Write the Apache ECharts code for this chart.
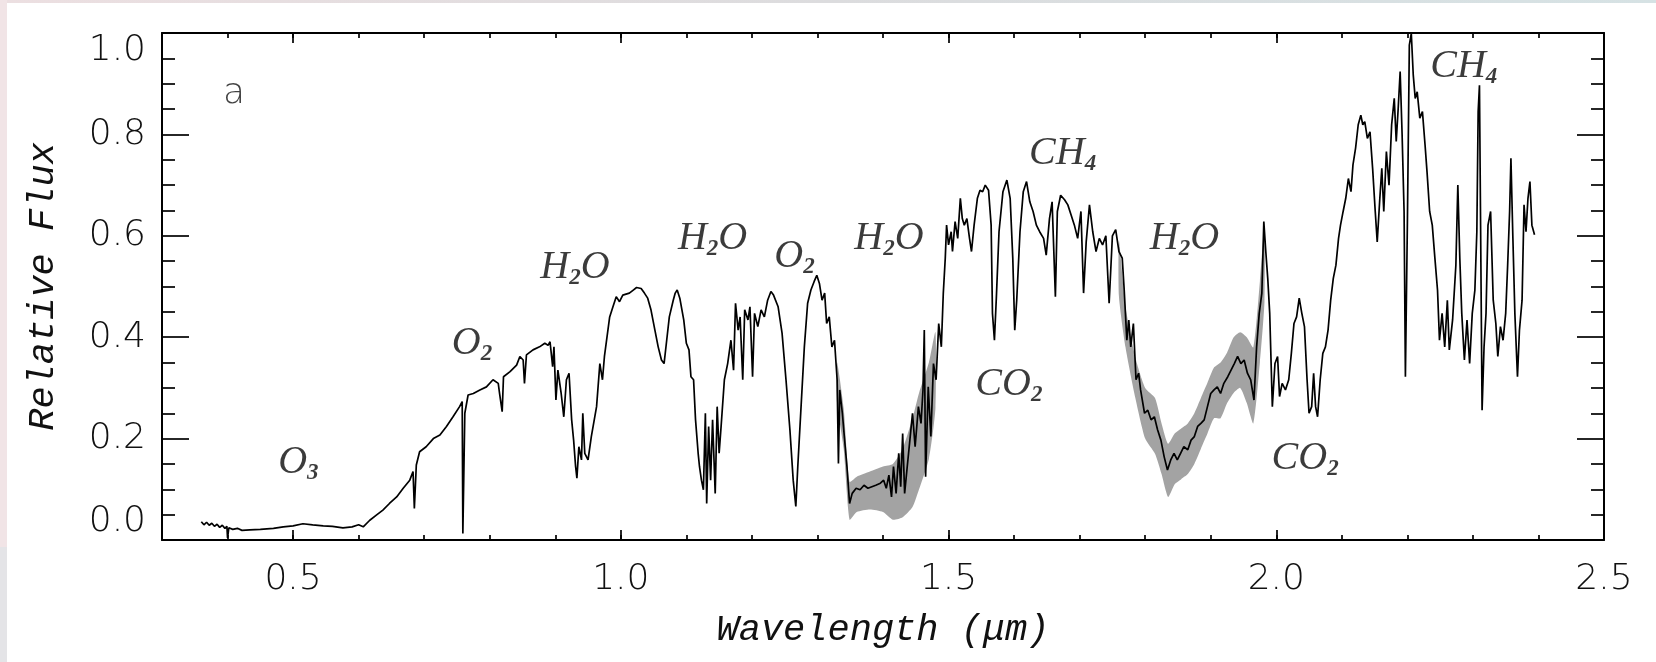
<!DOCTYPE html>
<html>
<head>
<meta charset="utf-8">
<script src="https://cdn.jsdelivr.net/npm/echarts@6/dist/echarts.min.js"></script>
<style>
  html, body { margin: 0; padding: 0; background: #fff; }
  #main { width: 1656px; height: 662px; }
</style>
</head>
<body>
<div id="main"></div>
<script>
// spectrum, [wavelength (um), relative flux]
var specVis = [[0.360,0.036],[0.364,0.030],[0.368,0.035],[0.372,0.029],[0.376,0.033],[0.380,0.027],[0.384,0.031],[0.388,0.025],[0.392,0.029],[0.396,0.023],[0.399,0.027],[0.400,0.004],[0.402,0.024],[0.408,0.021],[0.415,0.023],[0.422,0.019],[0.434,0.020],[0.450,0.021],[0.470,0.023],[0.485,0.026],[0.500,0.028],[0.515,0.032],[0.530,0.030],[0.546,0.028],[0.560,0.027],[0.576,0.024],[0.590,0.026],[0.600,0.030],[0.607,0.026],[0.617,0.039],[0.627,0.049],[0.637,0.059],[0.647,0.072],[0.658,0.085],[0.668,0.102],[0.678,0.118],[0.683,0.135],[0.685,0.062],[0.688,0.148],[0.693,0.174],[0.703,0.184],[0.714,0.200],[0.724,0.207],[0.734,0.224],[0.744,0.243],[0.754,0.263],[0.758,0.273],[0.759,0.013],[0.762,0.250],[0.767,0.286],[0.775,0.289],[0.785,0.296],[0.795,0.302],[0.805,0.316],[0.813,0.309],[0.815,0.289],[0.819,0.253],[0.821,0.322],[0.831,0.332],[0.841,0.345],[0.846,0.362],[0.851,0.355],[0.853,0.309],[0.856,0.365],[0.866,0.375],[0.876,0.381],[0.884,0.388],[0.889,0.384],[0.892,0.391],[0.896,0.342],[0.898,0.381],[0.901,0.276],[0.904,0.335],[0.909,0.289],[0.913,0.243],[0.917,0.316],[0.921,0.329],[0.925,0.237],[0.928,0.197],[0.931,0.145],[0.933,0.122],[0.936,0.184],[0.940,0.158],[0.942,0.250],[0.945,0.171],[0.950,0.158],[0.955,0.204],[0.963,0.263],[0.968,0.348],[0.972,0.316],[0.975,0.362],[0.983,0.440],[0.988,0.460],[0.993,0.480],[0.998,0.470],[1.003,0.483],[1.013,0.487],[1.019,0.493],[1.024,0.498],[1.031,0.496]];

var specJ = [[1.036,0.487],[1.041,0.477],[1.046,0.454],[1.052,0.414],[1.057,0.381],[1.062,0.355],[1.066,0.348],[1.070,0.394],[1.074,0.440],[1.080,0.473],[1.083,0.487],[1.086,0.493],[1.090,0.477],[1.092,0.480],[1.096,0.434],[1.100,0.388],[1.104,0.375],[1.107,0.322],[1.111,0.316],[1.114,0.237],[1.118,0.171],[1.120,0.145],[1.123,0.118],[1.126,0.099],[1.129,0.250],[1.131,0.072],[1.134,0.224],[1.137,0.118],[1.140,0.237],[1.144,0.092],[1.147,0.263],[1.150,0.171],[1.153,0.224],[1.158,0.316],[1.163,0.348],[1.168,0.394],[1.172,0.335],[1.175,0.467],[1.179,0.414],[1.182,0.440],[1.186,0.316],[1.189,0.454],[1.194,0.434],[1.197,0.460],[1.201,0.322],[1.204,0.447],[1.209,0.421],[1.214,0.454],[1.219,0.440],[1.224,0.473],[1.229,0.490],[1.233,0.483],[1.240,0.460],[1.246,0.408],[1.252,0.316],[1.258,0.217],[1.263,0.118],[1.267,0.066],[1.270,0.145],[1.275,0.263],[1.280,0.381],[1.285,0.467],[1.290,0.493],[1.295,0.510],[1.299,0.522],[1.303,0.506],[1.307,0.473],[1.311,0.487],[1.314,0.427],[1.318,0.440],[1.322,0.381],[1.326,0.394],[1.330,0.316],[1.332,0.151],[1.334,0.296],[1.338,0.250],[1.341,0.204],[1.345,0.145],[1.349,0.072],[1.353,0.092],[1.359,0.102],[1.365,0.099],[1.371,0.108],[1.377,0.102],[1.383,0.105],[1.389,0.108],[1.396,0.112],[1.401,0.118],[1.405,0.102],[1.409,0.128],[1.413,0.085],[1.416,0.145],[1.420,0.092],[1.424,0.171],[1.427,0.105],[1.430,0.210],[1.433,0.092],[1.437,0.145],[1.441,0.197],[1.445,0.250],[1.449,0.184],[1.454,0.263],[1.458,0.230],[1.461,0.296],[1.463,0.414],[1.465,0.125],[1.469,0.302],[1.473,0.204],[1.477,0.348],[1.481,0.316],[1.485,0.427],[1.489,0.381],[1.492,0.487]];

var specH = [[1.495,0.556],[1.497,0.621],[1.500,0.582],[1.504,0.608],[1.506,0.569],[1.510,0.628],[1.514,0.595],[1.518,0.674],[1.521,0.634],[1.524,0.621],[1.528,0.634],[1.532,0.595],[1.535,0.569],[1.539,0.621],[1.544,0.674],[1.548,0.690],[1.552,0.687],[1.556,0.700],[1.561,0.690],[1.565,0.621],[1.567,0.447],[1.570,0.394],[1.573,0.480],[1.577,0.608],[1.583,0.687],[1.589,0.710],[1.594,0.674],[1.598,0.556],[1.601,0.414],[1.604,0.473],[1.609,0.608],[1.614,0.687],[1.619,0.707],[1.624,0.667],[1.629,0.648],[1.634,0.621],[1.639,0.608],[1.645,0.595],[1.649,0.562],[1.654,0.634],[1.658,0.667],[1.663,0.480],[1.666,0.648],[1.671,0.680],[1.677,0.671],[1.682,0.661],[1.687,0.641],[1.692,0.621],[1.697,0.595],[1.702,0.648],[1.706,0.487],[1.710,0.588],[1.715,0.661],[1.720,0.608],[1.725,0.569],[1.730,0.595],[1.735,0.582],[1.740,0.600],[1.745,0.467],[1.750,0.600],[1.755,0.612],[1.760,0.569],[1.765,0.556]];

var specK = [[1.768,0.493],[1.772,0.394],[1.775,0.434],[1.778,0.381],[1.782,0.427],[1.786,0.316],[1.790,0.329],[1.793,0.296],[1.799,0.250],[1.804,0.256],[1.809,0.237],[1.814,0.243],[1.819,0.217],[1.824,0.197],[1.829,0.164],[1.834,0.138],[1.839,0.158],[1.844,0.171],[1.849,0.158],[1.854,0.171],[1.859,0.184],[1.865,0.178],[1.870,0.197],[1.875,0.204],[1.880,0.224],[1.885,0.230],[1.890,0.237],[1.895,0.263],[1.900,0.289],[1.905,0.296],[1.910,0.302],[1.915,0.289],[1.920,0.309],[1.926,0.322],[1.931,0.335],[1.936,0.348],[1.941,0.362],[1.946,0.348],[1.951,0.355],[1.956,0.329],[1.961,0.316],[1.966,0.276],[1.970,0.381],[1.974,0.447],[1.978,0.487],[1.981,0.628],[1.984,0.569],[1.987,0.516],[1.990,0.447],[1.994,0.263],[1.998,0.348],[2.002,0.362],[2.005,0.283],[2.009,0.309],[2.014,0.296],[2.019,0.316],[2.023,0.368],[2.027,0.427],[2.031,0.440],[2.035,0.477],[2.039,0.447],[2.043,0.421],[2.047,0.316],[2.050,0.250],[2.054,0.263],[2.057,0.329],[2.060,0.263],[2.063,0.243],[2.067,0.316],[2.071,0.368],[2.075,0.381],[2.079,0.414],[2.083,0.473],[2.087,0.516],[2.091,0.542],[2.095,0.595],[2.098,0.621],[2.102,0.648],[2.106,0.674],[2.110,0.713],[2.114,0.687],[2.117,0.740],[2.121,0.773],[2.125,0.819],[2.129,0.838],[2.132,0.819],[2.135,0.825],[2.139,0.792],[2.143,0.805],[2.147,0.733],[2.151,0.648],[2.154,0.588],[2.158,0.674],[2.161,0.733],[2.164,0.648],[2.168,0.766],[2.172,0.700],[2.176,0.819],[2.180,0.871],[2.183,0.786],[2.186,0.851],[2.189,0.924],[2.192,0.799],[2.195,0.648],[2.197,0.322],[2.200,0.621],[2.203,0.976],[2.206,0.999],[2.209,0.917],[2.212,0.871],[2.215,0.884],[2.219,0.832],[2.223,0.845],[2.227,0.779],[2.230,0.726],[2.234,0.648],[2.238,0.621],[2.242,0.556],[2.246,0.493],[2.249,0.394],[2.253,0.447],[2.257,0.381],[2.261,0.473],[2.264,0.375],[2.269,0.434],[2.274,0.542],[2.277,0.700],[2.280,0.556],[2.283,0.447],[2.287,0.355],[2.291,0.434],[2.295,0.348],[2.299,0.447],[2.303,0.493],[2.306,0.608],[2.308,0.845],[2.310,0.897],[2.314,0.256],[2.317,0.381],[2.320,0.447],[2.323,0.621],[2.327,0.648],[2.331,0.473],[2.335,0.427],[2.338,0.362],[2.342,0.421],[2.346,0.394],[2.350,0.447],[2.353,0.542],[2.356,0.648],[2.358,0.753],[2.361,0.595],[2.364,0.447],[2.368,0.322],[2.371,0.414],[2.375,0.473],[2.378,0.661],[2.381,0.608],[2.384,0.674],[2.387,0.707],[2.390,0.621],[2.394,0.602]];

// grey uncertainty bands, [wavelength, low, high]
var bandJ = [[1.330,0.27,0.35],[1.340,0.18,0.26],[1.349,0.040,0.115],[1.360,0.055,0.125],[1.380,0.06,0.135],[1.400,0.055,0.145],[1.415,0.040,0.15],[1.430,0.045,0.18],[1.445,0.065,0.24],[1.455,0.10,0.29],[1.470,0.16,0.35],[1.480,0.26,0.41]];
var bandK = [[1.760,0.48,0.59],[1.770,0.38,0.46],[1.785,0.28,0.36],[1.800,0.20,0.30],[1.815,0.17,0.28],[1.825,0.13,0.23],[1.835,0.085,0.19],[1.845,0.11,0.21],[1.855,0.12,0.22],[1.865,0.13,0.23],[1.875,0.15,0.25],[1.885,0.18,0.28],[1.895,0.21,0.31],[1.905,0.24,0.34],[1.915,0.24,0.35],[1.925,0.27,0.37],[1.935,0.29,0.40],[1.945,0.30,0.41],[1.955,0.27,0.40],[1.965,0.23,0.38],[1.975,0.35,0.51],[1.982,0.47,0.62]];

// molecule labels, [wavelength, flux, formula]
var molecules = [
  [0.508, 0.152, 'O3'],
  [0.773, 0.388, 'O2'],
  [0.930, 0.538, 'H2O'],
  [1.140, 0.595, 'H2O'],
  [1.265, 0.559, 'O2'],
  [1.409, 0.595, 'H2O'],
  [1.674, 0.763, 'CH4'],
  [1.592, 0.307, 'CO2'],
  [1.860, 0.595, 'H2O'],
  [2.044, 0.160, 'CO2'],
  [2.286, 0.934, 'CH4']
];
var panelTag = [[0.410, 0.880, 'a']];

var xTickLabels = [0.5, 1.0, 1.5, 2.0, 2.5];

var spectrum = specVis.concat(specJ, specH, specK);
var bands = [bandJ, bandK];

var myChart = echarts.init(document.getElementById('main'));

var tickStyle = { color: '#000', width: 1.7 };
var lineStyleAxis = { color: '#000', width: 2 };
var numFont = { fontFamily: 'DejaVu Sans', fontSize: 36, color: '#111', fontWeight: 200 };
var nameFont = { fontFamily: 'Liberation Mono', fontStyle: 'italic', fontSize: 37, color: '#111' };

function xAxisOf(pos, major, withLabel) {
  var ax = {
    type: 'value', min: 0.3, max: 2.5, position: pos,
    axisLine: { show: !major, lineStyle: lineStyleAxis },
    axisTick: { show: true, inside: true, length: major ? 10 : 5, lineStyle: tickStyle },
    axisLabel: { show: false },
    splitLine: { show: false }
  };
  if (major) {
    ax.axisTick.customValues = xTickLabels;
  } else {
    ax.interval = 0.1;
  }
  if (withLabel) {
    ax.axisLabel = {
      show: true, customValues: xTickLabels, margin: 22,
      formatter: function (v) { return v.toFixed(1); },
      fontFamily: numFont.fontFamily, fontSize: numFont.fontSize,
      color: numFont.color, fontWeight: numFont.fontWeight
    };
    ax.name = 'Wavelength (\u03bcm)';
    ax.nameLocation = 'middle';
    ax.nameGap = 72;
    ax.nameTextStyle = nameFont;
  }
  return ax;
}

function yAxisOf(pos, withLabel) {
  var ax = {
    type: 'value', min: 0, max: 1.0, interval: 0.2, position: pos,
    axisLine: { show: true, lineStyle: lineStyleAxis },
    axisTick: { show: true, inside: true, length: 27, lineStyle: tickStyle },
    minorTick: { show: true, splitNumber: 4, length: 13, lineStyle: tickStyle },
    axisLabel: { show: false },
    splitLine: { show: false },
    minorSplitLine: { show: false }
  };
  if (withLabel) {
    ax.axisLabel = {
      show: true, margin: 16,
      formatter: function (v) { return v.toFixed(1); },
      fontFamily: numFont.fontFamily, fontSize: numFont.fontSize,
      color: numFont.color, fontWeight: numFont.fontWeight,
      verticalAlignMinLabel: 'bottom', verticalAlignMaxLabel: 'top'
    };
    ax.name = 'Relative Flux';
    ax.nameLocation = 'middle';
    ax.nameGap = 100;
    ax.nameTextStyle = nameFont;
  }
  return ax;
}

function formulaRich(s) {
  return '{m|' + s.replace(/(\d)/g, '}{s|$1}{m|') + '}';
}

var option = {
  backgroundColor: '#fff',
  animation: false,
  graphic: [
    { type: 'rect', left: 0, top: 0, shape: { width: 1656, height: 3 },
      style: { fill: new echarts.graphic.LinearGradient(0, 0, 1, 0, [
        { offset: 0, color: '#ecdfe1' }, { offset: 0.5, color: '#dcdcde' }, { offset: 1, color: '#d6e2e4' }]) },
      silent: true },
    { type: 'rect', left: 0, top: 0, shape: { width: 7, height: 547 },
      style: { fill: '#f1e4e6' }, silent: true },
    { type: 'rect', left: 0, top: 547, shape: { width: 7, height: 115 },
      style: { fill: '#e4e4e7' }, silent: true }
  ],
  grid: { left: 162, right: 52, top: 33, bottom: 122 },
  xAxis: [
    xAxisOf('bottom', false, true),
    xAxisOf('bottom', true, false),
    xAxisOf('top', false, false),
    xAxisOf('top', true, false)
  ],
  yAxis: [yAxisOf('left', true), yAxisOf('right', false)],
  series: [
    {
      name: 'band',
      type: 'custom',
      xAxisIndex: 0, yAxisIndex: 0,
      silent: true,
      z: 2,
      data: [[1.40, 0.10], [1.87, 0.20]],
      renderItem: function (params, api) {
        var b = bands[params.dataIndex];
        var pts = [];
        for (var i = 0; i < b.length; i++) pts.push(api.coord([b[i][0], b[i][2]]));
        for (var j = b.length - 1; j >= 0; j--) pts.push(api.coord([b[j][0], b[j][1]]));
        return { type: 'polygon', shape: { points: pts, smooth: 0.2 }, style: { fill: '#a3a3a3' } };
      }
    },
    {
      name: 'flux',
      type: 'line',
      xAxisIndex: 0, yAxisIndex: 0,
      data: spectrum,
      showSymbol: false,
      symbol: 'none',
      z: 3,
      lineStyle: { color: '#000', width: 1.7 }
    },
    {
      name: 'molecules',
      type: 'scatter',
      xAxisIndex: 0, yAxisIndex: 0,
      symbolSize: 0,
      silent: true,
      z: 4,
      data: molecules.map(function (m) { return { value: [m[0], m[1]], name: m[2] }; }),
      label: {
        show: true, position: 'inside',
        formatter: function (p) { return formulaRich(p.name); },
        rich: {
          m: { fontFamily: 'Liberation Serif', fontStyle: 'italic', fontSize: 40, lineHeight: 44, color: '#0a0a0a' },
          s: { fontFamily: 'Liberation Serif', fontStyle: 'italic', fontWeight: 'bold', fontSize: 23, lineHeight: 24, verticalAlign: 'bottom', color: '#0a0a0a' }
        }
      }
    },
    {
      name: 'tag',
      type: 'scatter',
      xAxisIndex: 0, yAxisIndex: 0,
      symbolSize: 0,
      silent: true,
      data: panelTag.map(function (t) { return { value: [t[0], t[1]], name: t[2] }; }),
      label: {
        show: true, position: 'inside', formatter: '{b}',
        fontFamily: numFont.fontFamily, fontSize: 36, color: '#111', fontWeight: 200
      }
    }
  ]
};

myChart.setOption(option);
</script>
</body>
</html>
